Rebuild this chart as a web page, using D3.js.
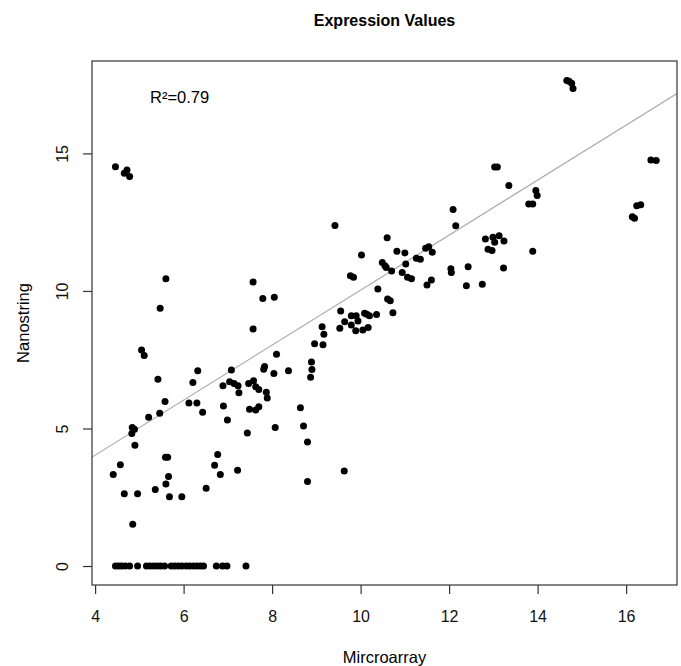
<!DOCTYPE html>
<html>
<head>
<meta charset="utf-8">
<script src="https://cdn.jsdelivr.net/npm/d3@7"></script>
<style>
  body { margin: 0; background: #fff; }
  svg { font-family: "Liberation Sans", Arial, sans-serif; }
</style>
</head>
<body>
<svg></svg>
<script>
// values
var microarray = [
  4.46, 4.72, 4.66, 4.78,
  9.42, 10.02, 9.77, 9.84, 5.60, 7.57, 7.79, 8.05, 5.47, 10.39,
  9.55, 9.79, 9.90, 10.09, 10.14, 10.20, 10.36,
  9.64, 9.79, 9.94, 9.53, 9.89, 10.05, 10.17,
  7.57,
  9.13, 9.17, 8.96, 9.15, 8.89, 8.90, 8.87,
  8.37, 8.10, 8.04, 7.83, 7.81,
  7.87, 7.89, 7.70, 7.63, 7.49,
  7.47, 7.58, 7.63, 7.70,
  8.07, 7.44, 7.22,
  7.08, 7.04, 7.14, 7.23, 6.89, 7.25, 6.90, 6.99,
  6.77, 6.70, 6.83, 6.51,
  6.32, 6.21, 6.12, 6.30, 6.43,
  5.96, 5.68, 5.66, 5.60, 5.59, 5.64,
  5.58, 5.46, 5.42, 5.36, 5.21,
  5.05, 5.11,
  4.84, 4.89, 4.83, 4.90,
  4.57, 4.41, 4.66, 4.96, 4.85,
  9.63, 8.80, 8.80, 8.71, 8.64,
  4.46, 4.53, 4.60, 4.68, 4.78, 4.96, 5.16, 5.24, 5.32, 5.40, 5.48, 5.57, 5.72,
  5.80, 5.88, 5.96, 6.06, 6.14, 6.22, 6.30, 6.38, 6.45, 6.74, 6.88, 6.98, 7.41,
  14.66, 14.71, 14.77, 14.80,
  16.56, 16.68, 16.24, 16.33, 16.14, 16.19,
  13.03, 13.09, 13.35, 13.96, 13.99, 13.80, 13.89, 13.89,
  12.09, 12.15, 10.60, 10.82, 11.00,
  10.49, 10.55, 10.58, 10.70, 11.02, 10.94, 11.06, 11.15,
  11.26, 11.35, 11.47, 11.54, 11.62, 11.50, 11.60,
  12.04, 12.05, 12.43, 12.39, 12.75,
  12.82, 12.99, 13.13, 13.03, 13.24, 12.88, 12.97, 13.23,
  10.61, 10.67, 10.73
];
var nanostring = [
  14.52, 14.40, 14.28, 14.16,
  12.38, 11.31, 10.55, 10.50, 10.44, 10.33, 9.73, 9.77, 9.37, 10.07,
  9.27, 9.10, 9.10, 9.19, 9.15, 9.10, 9.14,
  8.88, 8.76, 8.91, 8.64, 8.55, 8.58, 8.67,
  8.62,
  8.70, 8.43, 8.08, 8.04, 7.42, 7.14, 6.86,
  7.10, 7.70, 7.00, 7.25, 7.15,
  6.32, 6.11, 5.79, 5.67, 5.70,
  6.64, 6.74, 6.52, 6.42,
  5.04, 4.84, 3.48,
  7.13, 6.70, 6.64, 6.55, 6.55, 6.30, 5.82, 5.31,
  4.05, 3.66, 3.33, 2.83,
  7.10, 6.67, 5.93, 5.93, 5.59,
  2.52, 2.52, 3.25, 2.98, 3.95, 3.95,
  5.98, 5.55, 6.79, 2.78, 5.41,
  7.85, 7.65,
  5.04, 4.97, 4.82, 4.39,
  3.68, 3.33, 2.63, 2.63, 1.52,
  3.45, 3.07, 4.51, 5.09, 5.75,
  0, 0, 0, 0, 0, 0, 0, 0, 0, 0, 0, 0, 0,
  0, 0, 0, 0, 0, 0, 0, 0, 0, 0, 0, 0, 0,
  17.65, 17.62, 17.55, 17.36,
  14.76, 14.74, 13.10, 13.13, 12.70, 12.64,
  14.51, 14.51, 13.83, 13.65, 13.47, 13.16, 13.16, 11.44,
  12.96, 12.37, 11.93, 11.44, 11.38,
  11.03, 10.92, 10.85, 10.73, 10.98, 10.67, 10.50, 10.44,
  11.19, 11.15, 11.55, 11.61, 11.41, 10.22, 10.40,
  10.81, 10.67, 10.88, 10.19, 10.24,
  11.89, 11.95, 12.01, 11.77, 11.82, 11.52, 11.47, 10.83,
  9.71, 9.64, 9.21
];
var xTicks = [4, 6, 8, 10, 12, 14, 16];
var yTicks = [0, 5, 10, 15];
var fitLine = { intercept: 0.03, slope: 1.0 };
var rSquared = "R²=0.79";

var width = 681,
    height = 666,
    boxLeft = 92, boxRight = 677, boxTop = 61, boxBottom = 585;

var svg = d3.select("svg")
    .attr("width", width)
    .attr("height", height);

var x = d3.scaleLinear().domain([3.93, 17.15]).range([boxLeft, boxRight]);
var y = d3.scaleLinear().domain([-0.69, 18.36]).range([boxBottom, boxTop]);

var points = microarray.map(function(d, i) { return {x: d, y: nanostring[i]}; });

// regression line, clipped to the plot box
svg.append("clipPath").attr("id", "box")
  .append("rect")
    .attr("x", boxLeft).attr("y", boxTop)
    .attr("width", boxRight - boxLeft).attr("height", boxBottom - boxTop);

var x0 = x.domain()[0], x1 = x.domain()[1];
svg.append("line")
    .attr("clip-path", "url(#box)")
    .attr("x1", x(x0)).attr("y1", y(fitLine.intercept + fitLine.slope * x0))
    .attr("x2", x(x1)).attr("y2", y(fitLine.intercept + fitLine.slope * x1))
    .attr("stroke", "#aaa")
    .attr("stroke-width", 1.2);

svg.selectAll("circle")
    .data(points)
    .enter().append("circle")
    .attr("cx", function(d) { return x(d.x); })
    .attr("cy", function(d) { return y(d.y); })
    .attr("r", 3.5)
    .style("fill", "#000");

svg.append("rect")
    .attr("x", boxLeft).attr("y", boxTop)
    .attr("width", boxRight - boxLeft).attr("height", boxBottom - boxTop)
    .attr("fill", "none")
    .attr("stroke", "#333")
    .attr("stroke-width", 1.2);

var xAxis = svg.append("g")
    .attr("transform", "translate(0," + boxBottom + ")")
    .call(d3.axisBottom(x).tickValues(xTicks).tickSize(9).tickPadding(17).tickSizeOuter(0));
xAxis.select(".domain").remove();
xAxis.selectAll("line").attr("stroke", "#333").attr("stroke-width", 1.2);
xAxis.selectAll("text").attr("font-size", 16).attr("fill", "#111")
    .style("font-family", "'Liberation Sans', Arial, sans-serif");

var yAxis = svg.append("g")
    .attr("transform", "translate(" + boxLeft + ",0)")
    .call(d3.axisLeft(y).tickValues(yTicks).tickSize(9).tickSizeOuter(0));
yAxis.select(".domain").remove();
yAxis.selectAll("line").attr("stroke", "#333").attr("stroke-width", 1.2);
yAxis.selectAll("text")
    .attr("transform", "rotate(-90)")
    .attr("x", 0).attr("y", -24).attr("dy", 0)
    .attr("text-anchor", "middle")
    .attr("font-size", 16).attr("fill", "#111")
    .style("font-family", "'Liberation Sans', Arial, sans-serif");

svg.append("text")
    .attr("x", (boxLeft + boxRight) / 2).attr("y", 26)
    .attr("text-anchor", "middle")
    .attr("font-size", 16).attr("font-weight", "bold")
    .text("Expression Values");

svg.append("text")
    .attr("x", (boxLeft + boxRight) / 2).attr("y", 663)
    .attr("text-anchor", "middle")
    .attr("font-size", 16.5)
    .text("Mircroarray");

svg.append("text")
    .attr("transform", "translate(29," + (boxTop + boxBottom) / 2 + ") rotate(-90)")
    .attr("text-anchor", "middle")
    .attr("font-size", 16.5)
    .text("Nanostring");

svg.append("text")
    .attr("x", 150).attr("y", 103)
    .attr("font-size", 16.5)
    .text(rSquared);
</script>
</body>
</html>
